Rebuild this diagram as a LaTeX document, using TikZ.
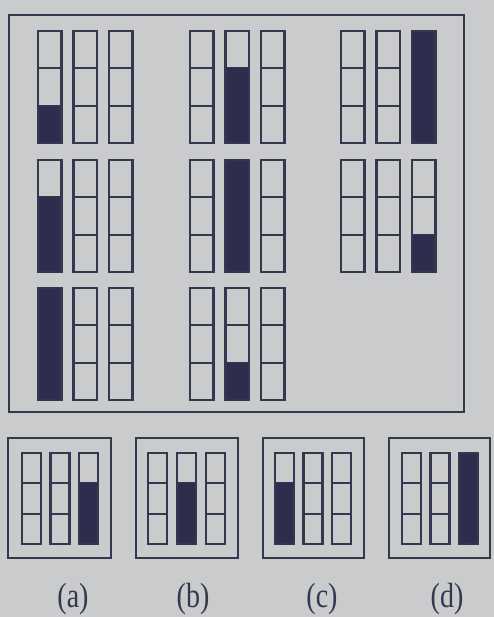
\documentclass[tikz,border=0pt]{standalone}
\usepackage{fontspec}
\setmainfont{Liberation Serif}
\definecolor{bg}{HTML}{C9CBCC}
\definecolor{ink}{HTML}{36364F}
\definecolor{dark}{HTML}{2E2D4E}
\tikzset{
  ln/.style={draw=ink, line width=2.3pt},
  fl/.style={fill=dark},
  lbl/.style={text=ink, font=\fontsize{35}{35}\selectfont, inner sep=0pt}
}
\newcommand\tube[5]{%
  \pgfmathsetmacro\cellh{#4/3}%
  \draw[ln] (#1,#2+\cellh) -- ++(#3,0) (#1,#2+2*\cellh) -- ++(#3,0);
  \ifnum#5>0 \fill[fl] (#1,#2+#4) rectangle ++(#3,-#5*\cellh);\fi
  \draw[ln] (#1,#2) rectangle ++(#3,#4);}
% group of three tubes: x y w h spacing k1 k2 k3
\newcommand\tubegroup[8]{%
  \tube{#1}{#2}{#3}{#4}{#6}%
  \tube{#1+#5}{#2}{#3}{#4}{#7}%
  \tube{#1+2*#5}{#2}{#3}{#4}{#8}}
\begin{document}
\begin{tikzpicture}[x=1pt,y=-1pt]
\fill[bg] (0,0) rectangle (494,617);
\useasboundingbox (0,0) rectangle (494,617);
% main frame
\draw[ln] (9,15) rectangle (464,412);
% row 1
\tubegroup{38}{31}{23.5}{112}{35.5}{1}{0}{0}
\tubegroup{190}{31}{23.5}{112}{35.5}{0}{2}{0}
\tubegroup{341}{31}{23.5}{112}{35.5}{0}{0}{3}
% row 2
\tubegroup{38}{160}{23.5}{112}{35.5}{2}{0}{0}
\tubegroup{190}{160}{23.5}{112}{35.5}{0}{3}{0}
\tubegroup{341}{160}{23.5}{112}{35.5}{0}{0}{1}
% row 3
\tubegroup{38}{288}{23.5}{112}{35.5}{3}{0}{0}
\tubegroup{190}{288}{23.5}{112}{35.5}{0}{1}{0}
% options
\draw[ln] (8,438) rectangle (111,558);
\tubegroup{22}{453}{19}{91}{28.5}{0}{0}{2}
\draw[ln] (136,438) rectangle (238,558);
\tubegroup{148}{453}{19}{91}{29}{0}{2}{0}
\draw[ln] (263,438) rectangle (364,558);
\tubegroup{275}{453}{19}{91}{28.5}{2}{0}{0}
\draw[ln] (389,438) rectangle (490,558);
\tubegroup{402}{453}{19}{91}{28.5}{0}{0}{3}
% labels
\node[lbl] (la) at (73,599) {\scalebox{0.8}[1]{(a)}};
\node[lbl] (lb) at (193,599) {\scalebox{0.8}[1]{(b)}};
\node[lbl] (lc) at (322,599) {\scalebox{0.8}[1]{(c)}};
\node[lbl] (ld) at (447,599) {\scalebox{0.8}[1]{(d)}};
\end{tikzpicture}
\end{document}
